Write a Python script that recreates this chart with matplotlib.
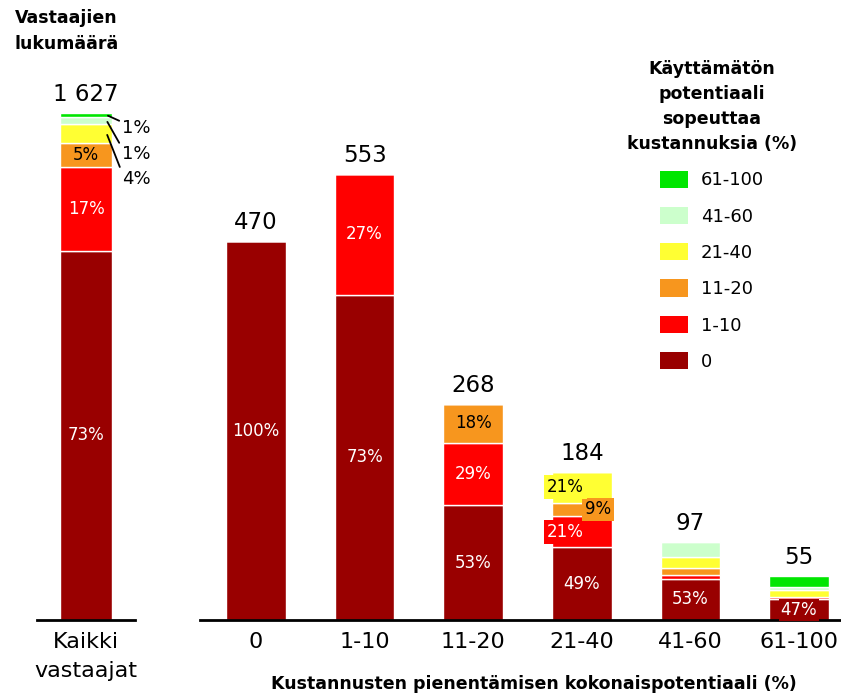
import matplotlib
matplotlib.use("Agg")
import matplotlib.pyplot as plt
from matplotlib.patches import Patch
import numpy as np

plt.rcParams['font.family'] = ['DejaVu Sans']

# ---------------- data ----------------
groups = ["0", "1-10", "11-20", "21-40", "41-60", "61-100"]
totals = [470, 553, 268, 184, 97, 55]
all_label = "Kaikki\nvastaajat"
all_total = 1627

levels = ["0", "1-10", "11-20", "21-40", "41-60", "61-100"]
colors = ["#990000", "#FF0000", "#F7961E", "#FFFF33", "#CCFFCC", "#00E600"]
text_colors = ["white", "white", "black", "black", "black", "black"]

# share (%) of each unused-potential level within each group
pct_lvl0 = [100, 73, 53, 49, 53, 47]
pct_lvl1 = [0, 27, 29, 21, 4, 4]
pct_lvl2 = [0, 0, 18, 9, 10, 1]
pct_lvl3 = [0, 0, 0, 21, 14, 16]
pct_lvl4 = [0, 0, 0, 0, 19, 7]
pct_lvl5 = [0, 0, 0, 0, 0, 25]
pct = np.array([pct_lvl0, pct_lvl1, pct_lvl2, pct_lvl3, pct_lvl4, pct_lvl5], float)

# all respondents
all_pct = [72.8, 16.6, 4.7, 3.7, 1.4, 0.8]

legend_title = "Käyttämätön\npotentiaali\nsopeuttaa\nkustannuksia (%)"
xlabel = "Kustannusten pienentämisen kokonaispotentiaali (%)"
ylabel = "Vastaajien\nlukumäärä"

def fmt_total(v):
    return f"{v:,}".replace(",", " ")

# ---------------- figure ----------------
W, H = 841, 695
fig = plt.figure(figsize=(W / 100, H / 100), dpi=100)

base_px = 620
top_px = 100
axL = fig.add_axes([37 / W, (H - base_px) / H, 98 / W, (base_px - top_px) / H])
axR = fig.add_axes([200 / W, (H - base_px) / H, 641 / W, (base_px - top_px) / H])

for ax in (axL, axR):
    for s in ("top", "right", "left"):
        ax.spines[s].set_visible(False)
    ax.spines["bottom"].set_linewidth(2)
    ax.spines["bottom"].set_color("black")
    ax.set_yticks([])
    ax.tick_params(axis="x", length=0, labelsize=16, pad=9)
    ax.patch.set_alpha(0)

# ---- left: all respondents ----
axL.set_xlim(-0.45, 0.45)
axL.set_ylim(0, 1669)
bw_L = 0.48
bottom = 0.0
seg_mid = []
for i, p in enumerate(all_pct):
    h = all_total * p / 100.0
    axL.bar(0, h, bottom=bottom, width=bw_L, color=colors[i],
            edgecolor="white", linewidth=1)
    seg_mid.append(bottom + h / 2)
    bottom += h
for i in range(3):
    axL.text(0, seg_mid[i], f"{round(all_pct[i])}%", ha="center", va="center",
             fontsize=12, color=text_colors[i])
axL.annotate(fmt_total(all_total), xy=(0, bottom), xytext=(0, 5),
             textcoords="offset points", ha="center", va="bottom",
             fontsize=16.5, annotation_clip=False)

# leader-line labels for the small top segments
offsets = {5: (11, -9.5), 4: (11, -24), 3: (11, -32.5)}
for i in (5, 4, 3):
    axL.annotate(f"{round(all_pct[i])}%", xy=(0.19, seg_mid[i]),
                 xytext=offsets[i], textcoords="offset points",
                 ha="left", va="center", fontsize=13, annotation_clip=False,
                 arrowprops=dict(arrowstyle="-", color="black", lw=1.3,
                                 shrinkA=0, shrinkB=1, relpos=(0, 0.85)))
axL.set_xticks([0])
axL.set_xticklabels([all_label])
for t in axL.get_xticklabels():
    t.set_linespacing(1.55)

# ---- right: by total potential ----
x = np.arange(len(groups))
axR.set_xlim(-0.516, 5.387)
axR.set_ylim(0, 645)
bw_R = 0.55
bottoms = np.zeros(len(groups))
for lvl in range(len(levels)):
    heights = np.array(totals) * pct[lvl] / 100.0
    axR.bar(x, heights, bottom=bottoms, width=bw_R, color=colors[lvl],
            edgecolor="white", linewidth=1)
    for g in range(len(groups)):
        p = pct[lvl, g]
        show = p >= 9 and (g < 4 or lvl == 0)
        if not show:
            continue
        dx = 0.0
        box = None
        if g == 3:
            dx = {0: 0.0, 1: -0.15, 2: 0.15, 3: -0.15}[lvl]
            if lvl > 0:
                box = dict(facecolor=colors[lvl], edgecolor="none", pad=2)
        if g == 5:
            box = dict(facecolor=colors[lvl], edgecolor="none", pad=1.5)
        axR.text(x[g] + dx, bottoms[g] + heights[g] / 2, f"{int(p)}%",
                 ha="center", va="center", fontsize=12,
                 color=text_colors[lvl], bbox=box)
    bottoms += heights

for g in range(len(groups)):
    axR.annotate(str(totals[g]), xy=(x[g], totals[g]), xytext=(0, 5),
                 textcoords="offset points", ha="center", va="bottom",
                 fontsize=16.5, annotation_clip=False)

axR.set_xticks(x)
axR.set_xticklabels(groups)

# ---- texts ----
fig.text(534 / W, 1 - 684 / H, xlabel, ha="center", va="center",
         fontsize=12.5, fontweight="bold")
fig.text(15 / W, 1 - 9 / H, ylabel, ha="left", va="top",
         fontsize=12.5, fontweight="bold", linespacing=1.6)

# ---- legend ----
handles = [Patch(facecolor=colors[i], edgecolor="none") for i in range(len(levels))][::-1]
leg = fig.legend(handles, levels[::-1], loc="upper center",
                 bbox_to_anchor=(712 / W, 1 - 60 / H), frameon=False,
                 title=legend_title, fontsize=13,
                 title_fontproperties={"weight": "bold", "size": 12.5},
                 handlelength=1.55, handleheight=1.1, labelspacing=0.97,
                 handletextpad=0.7, borderpad=0, borderaxespad=0)
leg.get_title().set_linespacing(1.5)
leg.get_title().set_multialignment("center")

fig.savefig("out.png", dpi=100)
